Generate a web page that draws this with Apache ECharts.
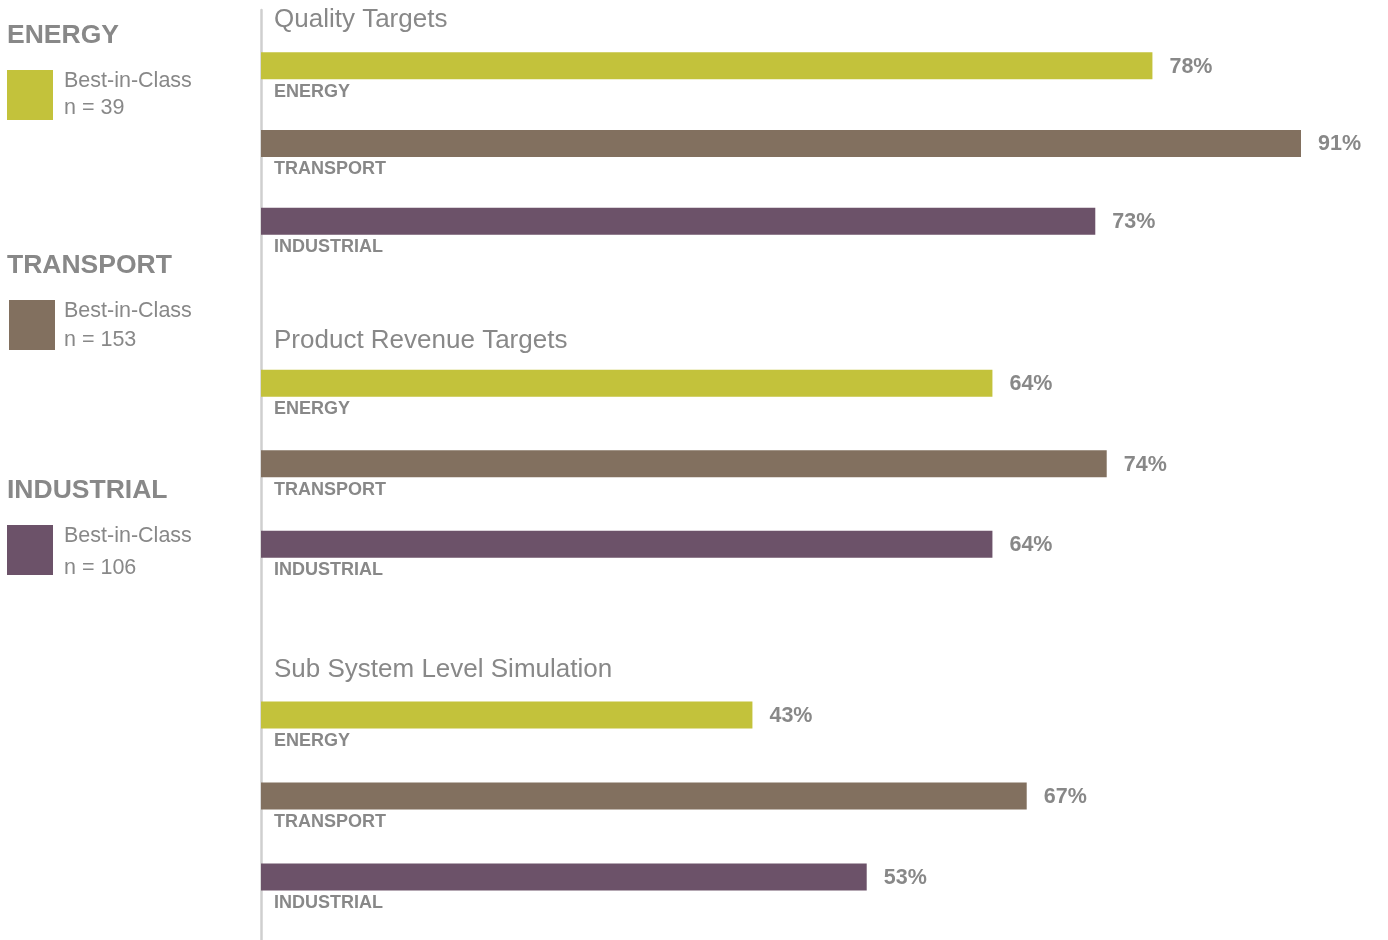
<!DOCTYPE html>
<html>
<head>
<meta charset="utf-8">
<script src="https://cdn.jsdelivr.net/npm/echarts@6/dist/echarts.min.js"></script>
<style>
html,body{margin:0;padding:0;background:#fff;}
#chart{width:1388px;height:940px;}
</style>
</head>
<body>
<div id="chart"></div>
<script>
const categories = ['ENERGY', 'TRANSPORT', 'INDUSTRIAL'];
const groupTitles = ['Quality Targets', 'Product Revenue Targets', 'Sub System Level Simulation'];
const qualityValues = [78, 91, 73];
const revenueValues = [64, 74, 64];
const simulationValues = [43, 67, 53];
const sampleSizes = [39, 153, 106];
const classLabel = 'Best-in-Class';
const colors = ['#c3c23b', '#82705f', '#6c5269'];

const groupValues = [qualityValues, revenueValues, simulationValues];
const gridLayout = [
  {top: 27, height: 233},
  {top: 343, height: 241.5},
  {top: 674.5, height: 243}
];
const gridLayoutTitles = [18, 339, 668];
const legendLayout = [
  {title: 34, box: 70, boxX: 7, l1: 81, l2: 108},
  {title: 264, box: 300, boxX: 9, l1: 311, l2: 340},
  {title: 489, box: 525, boxX: 7, l1: 536, l2: 568}
];
const xMax = 96.25;
const grey = '#888888';
const fontFamily = 'Liberation Sans, Arial, Helvetica, sans-serif';

const grids = [], xAxes = [], yAxes = [], series = [], titles = [], graphics = [];
gridLayout.forEach((g, i) => {
  grids.push({left: 261, right: 27, top: g.top, height: g.height});
  xAxes.push({type: 'value', gridIndex: i, min: 0, max: xMax, show: false});
  yAxes.push({
    type: 'category', gridIndex: i, data: categories, inverse: true,
    axisLine: {show: false}, axisTick: {show: false}, splitLine: {show: false},
    axisLabel: {
      inside: true, margin: 13, verticalAlign: 'top', padding: [17, 0, 0, 0],
      color: grey, fontWeight: 'bold', fontSize: 18, fontFamily: fontFamily
    }
  });
  series.push({
    type: 'bar', xAxisIndex: i, yAxisIndex: i, data: groupValues[i],
    barWidth: 27,
    itemStyle: {color: p => colors[p.dataIndex]},
    label: {
      show: true, position: 'right', distance: 17, formatter: '{c}%', offset: [0, 1],
      color: grey, fontWeight: 'bold', fontSize: 21.5, fontFamily: fontFamily
    },
    silent: true, animation: false
  });
  titles.push({
    text: groupTitles[i], left: 274, top: gridLayoutTitles[i] - 11, padding: 0,
    textStyle: {color: grey, fontWeight: 'normal', fontSize: 26, fontFamily: fontFamily}
  });
});
// full-height axis line grid
grids.push({left: 261, right: 27, top: 10, bottom: 0});
xAxes.push({type: 'value', gridIndex: 3, show: false});
yAxes.push({
  type: 'category', gridIndex: 3, data: [''],
  axisLine: {show: true, lineStyle: {color: '#cfcfcf', width: 2.5}},
  axisTick: {show: false}, axisLabel: {show: false}, splitLine: {show: false}
});

// left legend
categories.forEach((c, i) => {
  const L = legendLayout[i];
  graphics.push({
    type: 'text', left: 7, top: L.title - 12,
    style: {text: c, fill: grey, font: 'bold 26.5px ' + fontFamily}
  });
  graphics.push({
    type: 'rect', shape: {x: L.boxX, y: L.box, width: 46, height: 50},
    style: {fill: colors[i]}
  });
  graphics.push({
    type: 'text', left: 64, top: L.l1 - 11,
    style: {text: classLabel, fill: grey, font: '21.5px ' + fontFamily}
  });
  graphics.push({
    type: 'text', left: 64, top: L.l2 - 11,
    style: {text: 'n = ' + sampleSizes[i], fill: grey, font: '21.5px ' + fontFamily}
  });
});

const chart = echarts.init(document.getElementById('chart'), null, {renderer: 'canvas'});
chart.setOption({
  animation: false,
  backgroundColor: '#ffffff',
  title: titles,
  grid: grids,
  xAxis: xAxes,
  yAxis: yAxes,
  series: series,
  graphic: graphics
});
</script>
</body>
</html>
